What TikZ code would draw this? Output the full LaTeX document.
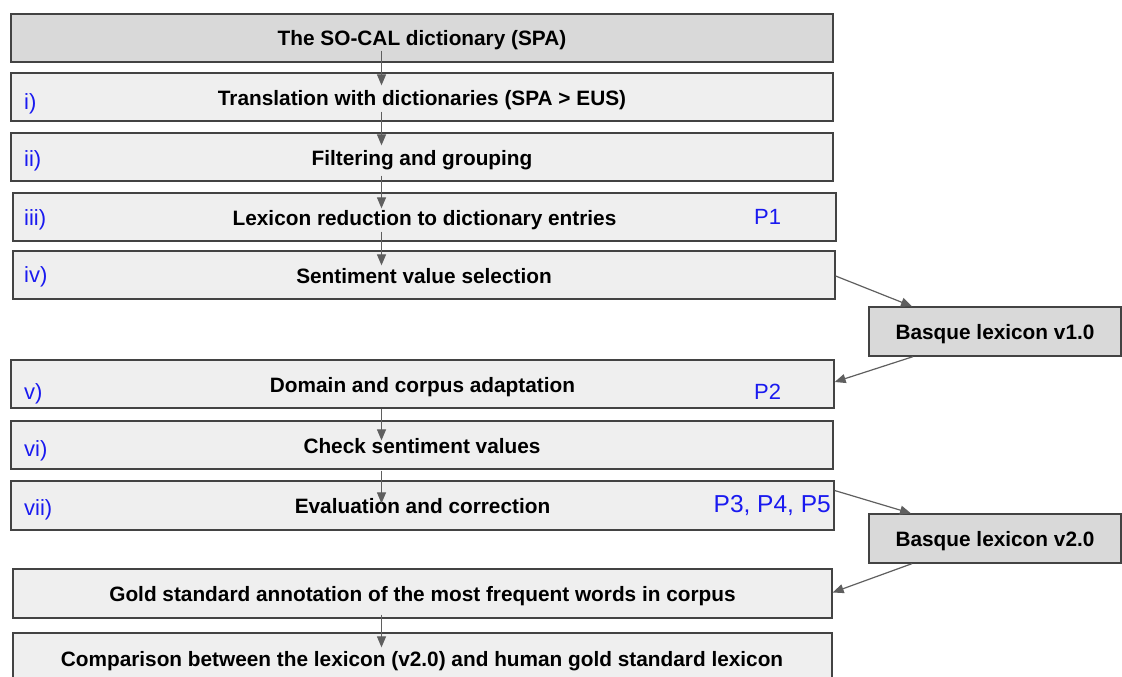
\documentclass[tikz,border=0pt]{standalone}
\usepackage{fontspec}
\setmainfont{Liberation Sans}
\usetikzlibrary{arrows.meta,calc}
\definecolor{bordc}{HTML}{434343}
\definecolor{fillA}{HTML}{D9D9D9}
\definecolor{fillB}{HTML}{EFEFEF}
\definecolor{arrc}{HTML}{5F5F5F}
\definecolor{lblc}{HTML}{1A1AF0}
\tikzset{
  box/.style={draw=bordc, line width=1.3pt, rectangle, inner sep=0pt, font=\fontsize{20.8}{24}\selectfont\bfseries, text=black, text height=16pt, text depth=0pt},
  darkbox/.style={box, fill=fillA},
  lightbox/.style={box, fill=fillB},
  lbl/.style={inner sep=0pt, text=lblc, font=\fontsize{22}{26}\selectfont},
  arr/.style={draw=arrc, line width=1.2pt, -{Triangle[length=11pt,width=9pt]}, arrc},
}
% box from corners: #1 name, #2 style, x1, x2, y1, y2, text
\newcommand{\mybox}[7]{%
  \node[#2, minimum width={(#4)-(#3)}, minimum height={(#6)-(#5)}] (#1) at ({((#3)+(#4))/2},{((#5)+(#6))/2}) {#7};}
\begin{document}
\begin{tikzpicture}[x=1pt,y=-1pt]
\useasboundingbox (0,0) rectangle (1122,677);
\coordinate (colx) at (381.5,0);
\mybox{top}{darkbox}{11}{833}{14}{62}{The SO-CAL dictionary (SPA)}
\mybox{s1}{lightbox}{11}{833}{73}{121}{Translation with dictionaries (SPA > EUS)}
\mybox{s2}{lightbox}{11}{833}{133}{181}{Filtering and grouping}
\mybox{s3}{lightbox}{13}{836}{193}{241}{Lexicon reduction to dictionary entries}
\mybox{s4}{lightbox}{13}{835}{251}{299}{Sentiment value selection}
\mybox{b1}{darkbox}{869}{1121}{307}{356}{Basque lexicon v1.0}
\mybox{s5}{lightbox}{11}{834}{360}{408}{Domain and corpus adaptation}
\mybox{s6}{lightbox}{11}{833}{421}{469}{Check sentiment values}
\mybox{s7}{lightbox}{11}{834}{481}{530}{Evaluation and correction}
\mybox{b2}{darkbox}{869}{1121}{514}{563}{Basque lexicon v2.0}
\mybox{gold}{lightbox}{13}{832}{569}{618}{Gold standard annotation of the most frequent words in corpus}
\mybox{comp}{lightbox}{13}{832}{633}{690}{}
\node[font=\fontsize{20.8}{24}\selectfont\bfseries, inner sep=0pt, text height=16pt, text depth=0pt] (comptext) at (422,658) {Comparison between the lexicon (v2.0) and human gold standard lexicon};
% labels
\node[lbl, anchor=west] (l1) at (24,104) {i)};
\node[lbl, anchor=west] (l2) at (24,161) {ii)};
\node[lbl, anchor=west] (l3) at (24,220) {iii)};
\node[lbl, anchor=west] (l4) at (24,277) {iv)};
\node[lbl, anchor=west] (l5) at (24,394) {v)};
\node[lbl, anchor=west] (l6) at (24,451) {vi)};
\node[lbl, anchor=west] (l7) at (24,510) {vii)};
\node[lbl, anchor=west] (p1) at (754,217) {P1};
\node[lbl, anchor=west] (p2) at (754,392) {P2};
\node[lbl, anchor=east, font=\fontsize{24.5}{28}\selectfont] (p3) at (831,506) {P3, P4, P5};
% vertical arrows
\draw[arr] ($(top.south -| colx)+(0,-12)$) -- ($(s1.north -| colx)+(0,13)$);
\draw[arr] ($(s1.south -| colx)+(0,-10)$) -- ($(s2.north -| colx)+(0,13)$);
\draw[arr] ($(s2.south -| colx)+(0,-6)$) -- ($(s3.north -| colx)+(0,16)$);
\draw[arr] ($(s3.south -| colx)+(0,-10)$) -- ($(s4.north -| colx)+(0,15)$);
\draw[arr] ($(s5.south -| colx)+(0,0)$) -- ($(s6.north -| colx)+(0,20)$);
\draw[arr] ($(s6.south -| colx)+(0,1)$) -- ($(s7.north -| colx)+(0,23)$);
\draw[arr] ($(gold.south -| colx)+(0,-4)$) -- ($(comp.north -| colx)+(0,15)$);
% diagonal arrows
\draw[arr] ([yshift=-1pt]s4.east) -- ([xshift=-83pt]b1.north);
\draw[arr] ([xshift=-82pt]b1.south) -- ([yshift=2pt]s5.east);
\draw[arr] ([yshift=15pt]s7.east) -- ([xshift=-84pt]b2.north);
\draw[arr] ([xshift=-83pt]b2.south) -- ([yshift=1pt]gold.east);
\end{tikzpicture}
\end{document}
